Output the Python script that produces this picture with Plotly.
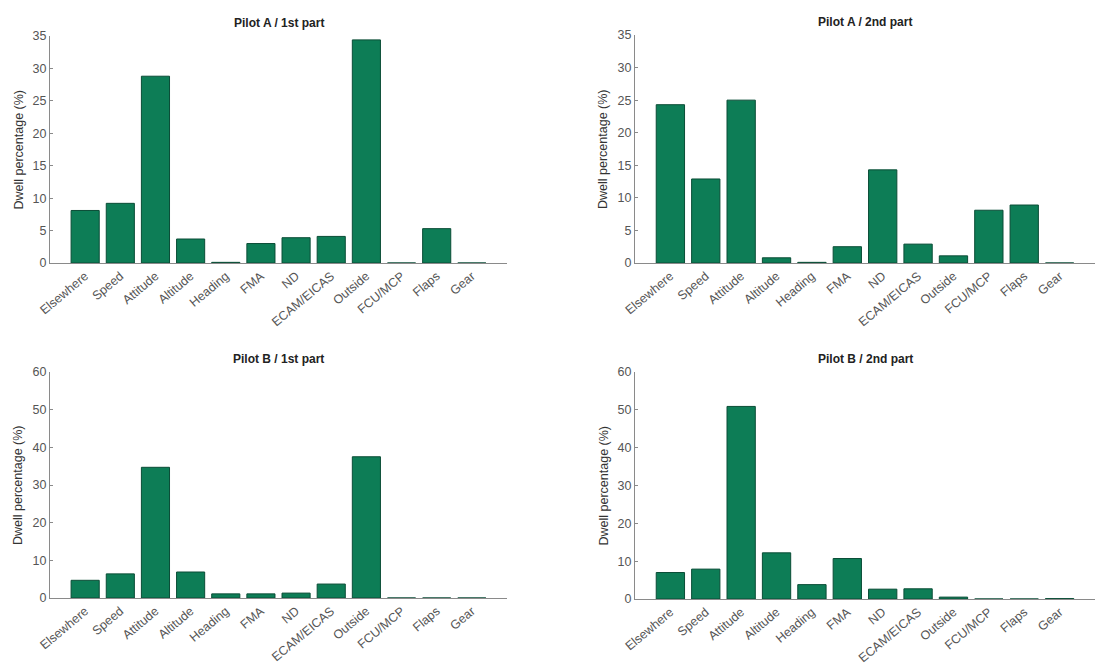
import plotly.graph_objects as go

categories = ["Elsewhere", "Speed", "Attitude", "Altitude", "Heading", "FMA", "ND",
              "ECAM/EICAS", "Outside", "FCU/MCP", "Flaps", "Gear"]

pilot_a_1st = [8.1, 9.2, 28.8, 3.7, 0.1, 3.0, 3.9, 4.1, 34.4, 0.0, 5.3, 0.0]
pilot_a_2nd = [24.3, 12.9, 25.0, 0.8, 0.1, 2.5, 14.3, 2.9, 1.1, 8.1, 8.9, 0.0]
pilot_b_1st = [4.7, 6.4, 34.7, 6.9, 1.1, 1.1, 1.3, 3.7, 37.5, 0.0, 0.0, 0.0]
pilot_b_2nd = [7.0, 7.9, 50.9, 12.2, 3.8, 10.7, 2.6, 2.7, 0.5, 0.0, 0.0, 0.1]

titles = ["Pilot A / 1st part", "Pilot A / 2nd part", "Pilot B / 1st part", "Pilot B / 2nd part"]
series = [pilot_a_1st, pilot_a_2nd, pilot_b_1st, pilot_b_2nd]
y_max = [35, 35, 60, 60]
y_dtick = [5, 5, 10, 10]

W, H = 1110, 670
x_domains = [(50, 507), (635, 1095), (50, 507), (635, 1095)]
y_domains = [(36, 263), (35, 263), (372, 598), (372, 599)]

fig = go.Figure()
xs = list(range(len(categories)))

for i in range(4):
    sfx = "" if i == 0 else str(i + 1)
    fig.add_trace(go.Bar(
        x=xs, y=series[i], width=0.8,
        marker=dict(color="#0d7d56", line=dict(color="#0a4d36", width=1)),
        xaxis="x" + sfx, yaxis="y" + sfx, showlegend=False,
    ))
    x0, x1 = x_domains[i]
    yt, yb = y_domains[i]
    fig.layout["xaxis" + sfx] = dict(
        domain=[x0 / W, x1 / W], anchor="y" + sfx, range=[-1, 12], automargin=False,
        tickmode="array", tickvals=xs, ticktext=categories, tickangle=-40,
        showline=True, linecolor="#8a8a8a", linewidth=1, ticks="",
        showgrid=False, zeroline=False,
        tickfont=dict(family="Liberation Sans, Arial", size=12.5, color="#555555"),
    )
    fig.layout["yaxis" + sfx] = dict(
        domain=[1 - yb / H, 1 - yt / H], anchor="x" + sfx, range=[0, y_max[i]],
        dtick=y_dtick[i], showline=True, linecolor="#8a8a8a", linewidth=1,
        ticks="inside", ticklen=3, tickcolor="#8a8a8a", automargin=False,
        showgrid=False, zeroline=False,
        tickfont=dict(family="Liberation Sans, Arial", size=12.5, color="#555555"),
    )
    fig.add_annotation(
        x=(x0 + x1) / 2 / W, y=1 - (yt - 13) / H, xref="paper", yref="paper",
        text="<b>" + titles[i] + "</b>", showarrow=False,
        font=dict(family="Liberation Sans, Arial", size=12, color="#222222"),
        xanchor="center", yanchor="middle",
    )
    fig.add_annotation(
        x=(x0 - 32) / W, y=1 - (yt + yb) / 2 / H, xref="paper", yref="paper",
        text="Dwell percentage (%)", showarrow=False, textangle=-90,
        font=dict(family="Liberation Sans, Arial", size=12.5, color="#333333"),
        xanchor="center", yanchor="middle",
    )

fig.update_layout(
    width=W, height=H, margin=dict(l=0, r=0, t=0, b=0, autoexpand=False),
    paper_bgcolor="white", plot_bgcolor="white", bargap=0.2,
)

fig.write_html(
    "out.html",
    config={"displayModeBar": False},
    post_script="document.body.style.margin='0px';document.body.style.overflow='hidden';",
)
